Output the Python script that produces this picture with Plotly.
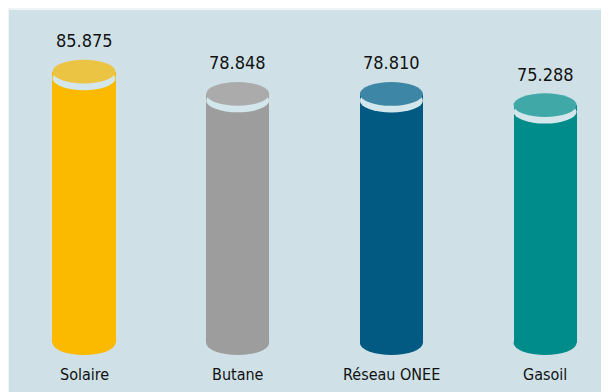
import plotly.graph_objects as go

categories = ["Solaire", "Butane", "Réseau ONEE", "Gasoil"]
values = [85.875, 78.848, 78.810, 75.288]
value_labels = ["85.875", "78.848", "78.810", "75.288"]
body_colors = ["#fbb900", "#9d9d9d", "#025a82", "#008c8a"]
top_colors = ["#ecc443", "#ababab", "#3e86a6", "#41a8a8"]

PANEL = "#cfe1e7"
RING = "#d3e6ec"
FONT = "DejaVu Sans Condensed, Roboto, sans-serif"
BAR_W = 0.41
EH = 3.75     # ellipse half-height in data units
RING_OFF = 2.1

fig = go.Figure()
fig.add_trace(go.Bar(
    x=list(range(len(categories))), y=values, width=BAR_W,
    marker=dict(color=body_colors, line=dict(width=0)),
    hoverinfo="skip", showlegend=False,
))

shapes = [dict(type="rect", xref="paper", yref="paper",
               x0=1 / 601, x1=1.0, y0=-0.1, y1=1.0507,
               fillcolor=PANEL, line=dict(width=0), layer="below")]
annotations = []
for i, (v, lab, cat) in enumerate(zip(values, value_labels, categories)):
    x0, x1 = i - BAR_W / 2, i + BAR_W / 2
    # bottom cap
    shapes.append(dict(type="circle", xref="x", yref="y", x0=x0, x1=x1,
                       y0=-EH, y1=EH, fillcolor=body_colors[i],
                       line=dict(width=0), layer="above"))
    # light ring below top
    shapes.append(dict(type="circle", xref="x", yref="y", x0=x0, x1=x1,
                       y0=v - RING_OFF - EH, y1=v - RING_OFF + EH,
                       fillcolor=RING, line=dict(width=0), layer="above"))
    # top cap
    shapes.append(dict(type="circle", xref="x", yref="y", x0=x0, x1=x1,
                       y0=v - EH, y1=v + EH, fillcolor=top_colors[i],
                       line=dict(width=0), layer="above"))
    annotations.append(dict(x=i, y=v, yshift=31, text=lab, showarrow=False,
                            font=dict(size=18, color="#111111", family=FONT)))
    annotations.append(dict(x=i, y=0, yshift=-31, text=cat, showarrow=False,
                            font=dict(size=16, color="#111111", family=FONT)))

fig.update_layout(
    width=601, height=384,
    margin=dict(l=0, r=0, t=19, b=30),
    paper_bgcolor="#eef5f8",
    plot_bgcolor="rgba(0,0,0,0)",
    shapes=shapes,
    annotations=annotations,
    xaxis=dict(range=[-0.4945, 3.416], visible=False),
    yaxis=dict(range=[-6, 100], visible=False),
    bargap=0,
)

fig.write_html("out.html")
